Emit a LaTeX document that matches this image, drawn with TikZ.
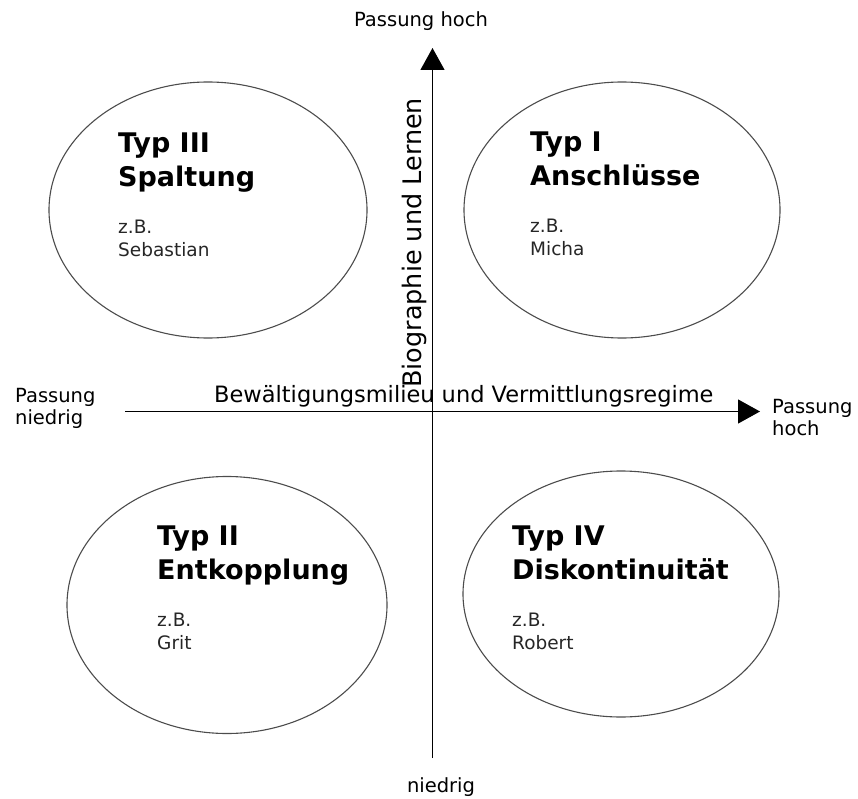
\documentclass[tikz,border=0pt]{standalone}
\usepackage{fontspec}
\setmainfont{DejaVu Sans}
\usepackage{tikz}
\usetikzlibrary{shapes.geometric,arrows.meta}

\begin{document}
\begin{tikzpicture}[x=1pt,y=-1pt,
oval/.style={ellipse, draw=black!70, line width=1.1pt, inner sep=0pt},
titel/.style={anchor=base west, inner sep=0pt, font=\fontsize{27}{32}\selectfont\bfseries},
bsp/.style={anchor=base west, inner sep=0pt, text=black!85, font=\fontsize{18.5}{22}\selectfont},
achse/.style={line width=1.2pt, -{Triangle[length=22pt,width=24pt]}},
lbl/.style={inner sep=0pt, font=\fontsize{19.5}{22}\selectfont}]
\useasboundingbox (0,0) rectangle (858,799);
% axes
\coordinate (xl) at (125,411.5);
\coordinate (xr) at (760,411.5);
\coordinate (yu) at (432.5,758);
\coordinate (yo) at (432.5,48);
\draw[achse] (xl) -- (xr);
\draw[achse] (yu) -- (yo);
% axis labels
\node[lbl, anchor=base] (oben) at (421,27) {Passung hoch};
\node[lbl, anchor=base] (unten) at (441,792) {niedrig};
\node[lbl, anchor=base west, align=left] (links) at (15,424) {Passung\\niedrig};
\node[lbl, anchor=base west, align=left] (rechts) at (772,435) {Passung\\hoch};
\node[inner sep=0pt, anchor=base west, font=\fontsize{22.5}{26}\selectfont] (milieu) at (214,402)
  {Bewältigungsmilieu und Vermittlungsregime};
\node[inner sep=0pt, anchor=base west, rotate=90, font=\fontsize{25.5}{30}\selectfont] (bio) at (421,388)
  {Biographie und Lernen};
% quadrants
\node[oval, minimum width=318pt, minimum height=256pt] (e3) at (208,210) {};
\node[oval, minimum width=316pt, minimum height=256pt] (e1) at (622,210) {};
\node[oval, minimum width=320pt, minimum height=257pt] (e2) at (227,605) {};
\node[oval, minimum width=316pt, minimum height=246pt] (e4) at (621,594) {};
\node[titel] (t3a) at (118,153) {Typ III};
\node[titel] (t3b) at (118,187) {Spaltung};
\node[bsp] (b3a) at (118,234) {z.B.};
\node[bsp] (b3b) at (118,257) {Sebastian};
\node[titel] (t1a) at (530,152) {Typ I};
\node[titel] (t1b) at (530,186) {Anschlüsse};
\node[bsp] (b1a) at (530,233) {z.B.};
\node[bsp] (b1b) at (530,256) {Micha};
\node[titel] (t2a) at (157,545) {Typ II};
\node[titel] (t2b) at (157,579) {Entkopplung};
\node[bsp] (b2a) at (157,626) {z.B.};
\node[bsp] (b2b) at (157,649) {Grit};
\node[titel] (t4a) at (512,545) {Typ IV};
\node[titel] (t4b) at (512,579) {Diskontinuität};
\node[bsp] (b4a) at (512,626) {z.B.};
\node[bsp] (b4b) at (512,649) {Robert};
\end{tikzpicture}
\end{document}
